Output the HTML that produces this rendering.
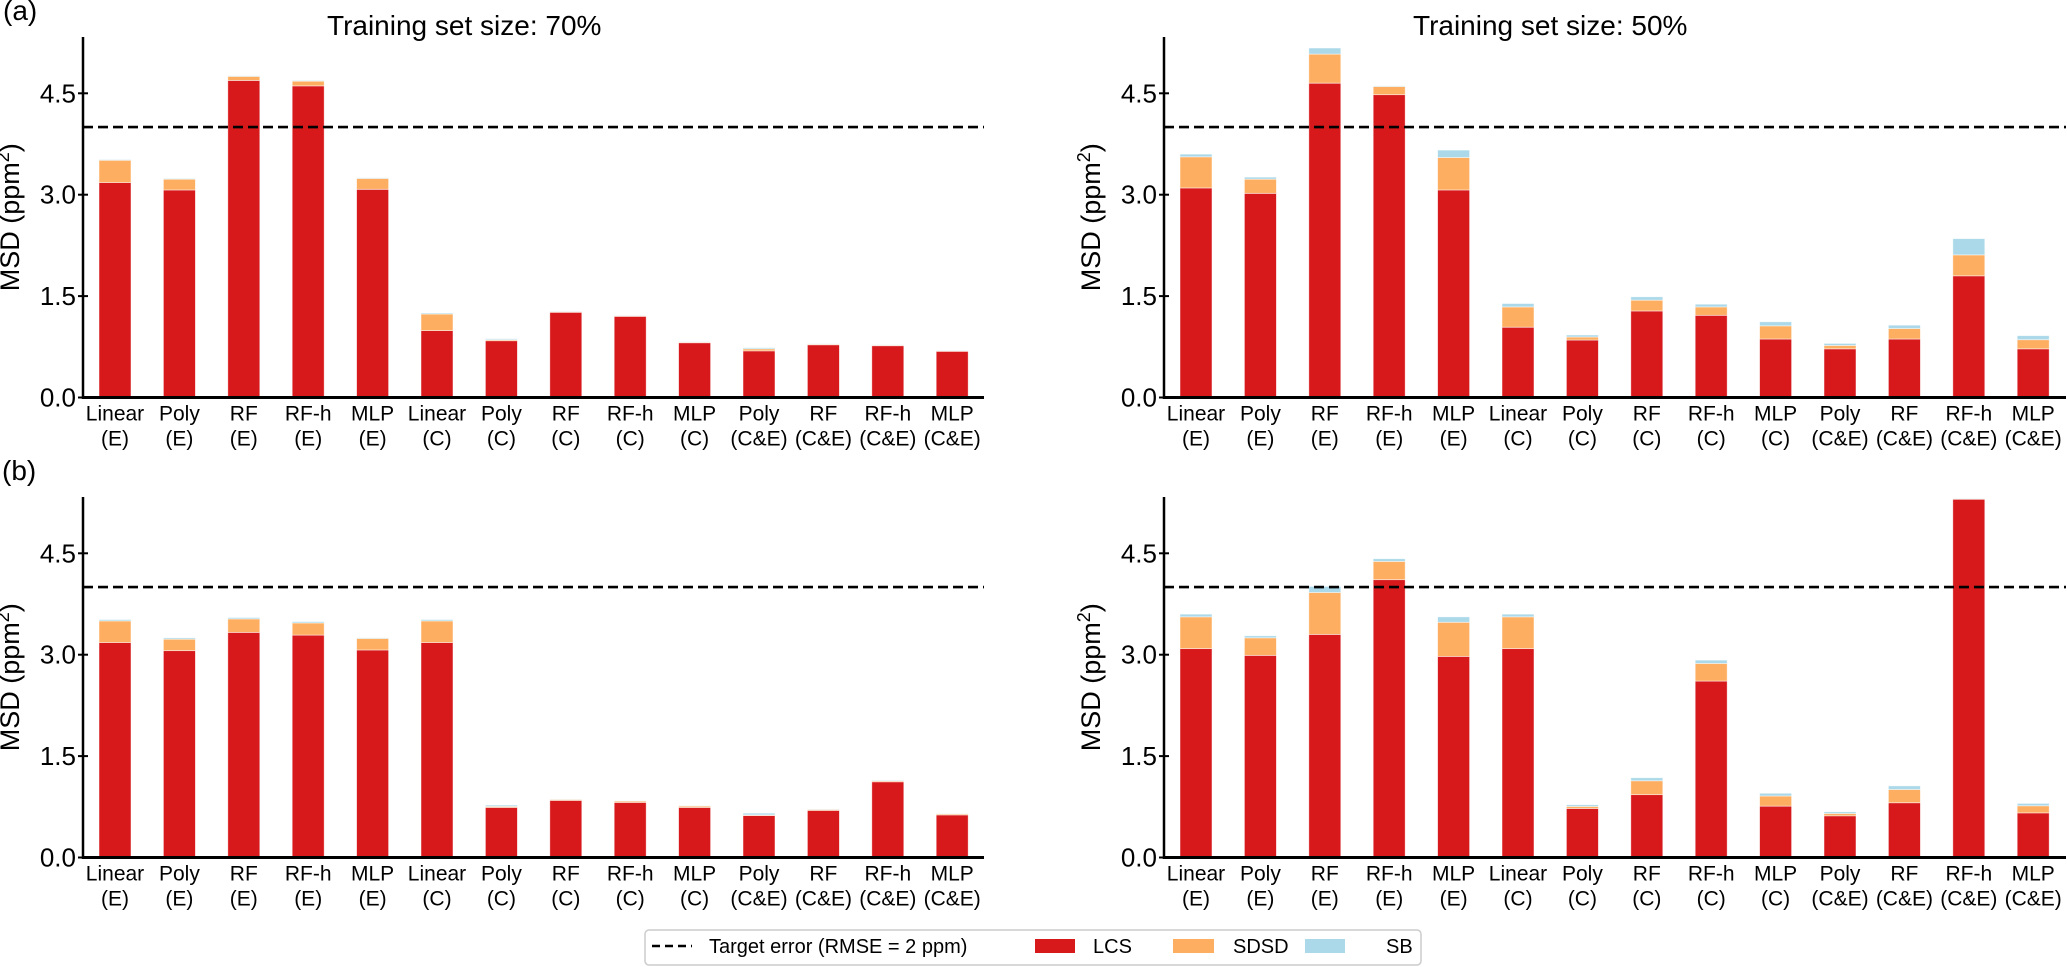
<!DOCTYPE html>
<html><head><meta charset="utf-8"><style>
html,body{margin:0;padding:0;background:#fff;}
svg{display:block;font-family:"Liberation Sans",Arial,sans-serif;}
</style></head><body>
<svg id="fig" width="2067" height="967" viewBox="0 0 2067 967" xmlns="http://www.w3.org/2000/svg">
<text x="3" y="20" font-size="28">(a)</text>
<text x="2" y="480" font-size="28">(b)</text>
<text x="327" y="35" font-size="28">Training set size: 70%</text>
<text x="1413" y="35" font-size="28">Training set size: 50%</text>
<g>
<rect x="645" y="930" width="776" height="35" rx="4" fill="#fff" stroke="#ccc" stroke-width="1.5"/>
<line x1="652" y1="946" x2="692" y2="946" stroke="#000" stroke-width="2.5" stroke-dasharray="8,5"/>
<text x="709" y="953" font-size="20">Target error (RMSE = 2 ppm)</text>
<rect x="1035" y="939" width="40" height="14" fill="#d7191c"/>
<text x="1093" y="953" font-size="20">LCS</text>
<rect x="1173" y="939" width="41" height="14" fill="#fdae61"/>
<text x="1233" y="953" font-size="20">SDSD</text>
<rect x="1305" y="939" width="40" height="14" fill="#abd9e9"/>
<text x="1386" y="953" font-size="20">SB</text>
</g>
</svg>
<script>
const catTop = ["Linear","Poly","RF","RF-h","MLP","Linear","Poly","RF","RF-h","MLP","Poly","RF","RF-h","MLP"];
const catBot = ["(E)","(E)","(E)","(E)","(E)","(C)","(C)","(C)","(C)","(C)","(C&E)","(C&E)","(C&E)","(C&E)"];
const catTopB = ["Linear","Poly","RF","RF-h","MLP","Linear","Poly","RF","RF-h","MLP","Poly","RF","RF-h","MLP"];
const catBotB = ["(E)","(E)","(E)","(E)","(E)","(C)","(C)","(C)","(C)","(C)","(C&E)","(C&E)","(C&E)","(C&E)"];
const yTicks = [0.0, 1.5, 3.0, 4.5];
const yTickLabels = ["0.0","1.5","3.0","4.5"];
const target = 4.0;
// cumulative tops: LCS, LCS+SDSD, LCS+SDSD+SB
const a70_lcs  = [3.18,3.07,4.69,4.61,3.08,0.99,0.84,1.26,1.20,0.81,0.69,0.78,0.766,0.683];
const a70_sdsd = [3.51,3.23,4.75,4.68,3.24,1.235,0.855,1.27,1.21,0.82,0.72,0.79,0.775,0.69];
const a70_sb   = [3.52,3.24,4.76,4.69,3.25,1.25,0.87,1.275,1.215,0.825,0.737,0.795,0.78,0.695];
const a50_lcs  = [3.10,3.02,4.65,4.48,3.07,1.04,0.85,1.28,1.216,0.865,0.72,0.865,1.80,0.72];
const a50_sdsd = [3.56,3.23,5.08,4.60,3.55,1.34,0.895,1.44,1.34,1.06,0.77,1.02,2.11,0.855];
const a50_sb   = [3.60,3.26,5.17,4.61,3.66,1.39,0.925,1.49,1.38,1.12,0.80,1.07,2.35,0.915];
const b70_lcs  = [3.18,3.06,3.33,3.29,3.07,3.18,0.74,0.844,0.814,0.74,0.62,0.696,1.12,0.63];
const b70_sdsd = [3.50,3.23,3.53,3.47,3.24,3.50,0.755,0.858,0.834,0.76,0.63,0.71,1.135,0.646];
const b70_sb   = [3.52,3.25,3.55,3.49,3.25,3.52,0.775,0.862,0.838,0.765,0.656,0.715,1.145,0.65];
const b50_lcs  = [3.09,2.99,3.30,4.11,2.975,3.09,0.725,0.93,2.61,0.76,0.617,0.81,5.30,0.66];
const b50_sdsd = [3.56,3.25,3.92,4.38,3.48,3.56,0.755,1.135,2.87,0.91,0.651,1.006,5.305,0.765];
const b50_sb   = [3.60,3.28,4.01,4.42,3.56,3.60,0.78,1.18,2.92,0.95,0.676,1.06,5.31,0.80];

const NS = "http://www.w3.org/2000/svg";
const svg = document.getElementById("fig");
function mk(tag, attrs, parent){ const e = document.createElementNS(NS, tag); for (const k in attrs) e.setAttribute(k, attrs[k]); (parent||svg).appendChild(e); return e; }

const UNIT = 67.6;
function panel(name, axX, axEnd, zeroY, topY, lcs, sdsd, sb, tops, bots){
  const g = mk("g", {});
  
  
  const yS = v => zeroY - v*UNIT;
  const xS = i => axX + 32 + i*64.4;
  const bw = 32;
  const colors = ["#d7191c","#fdae61","#abd9e9"];
  for (let i=0;i<lcs.length;i++){
    const segs = [[0,lcs[i]],[lcs[i],sdsd[i]],[sdsd[i],sb[i]]];
    const names = ['bar-lcs','bar-sdsd','bar-sb'];
    for (let s=0;s<3;s++){
      const lo = segs[s][0], hi = Math.max(segs[s][0], segs[s][1]);
      if (hi-lo <= 0) continue;
      const r = mk("rect", {x: xS(i)-bw/2, y: yS(hi), width: bw, height: yS(lo)-yS(hi), fill: colors[s], stroke: "rgba(255,255,255,0.6)", "stroke-width": 0.8}, g);
      
      
    }
    const t1 = mk("text", {x: xS(i), y: zeroY+23, "font-size": 21, "text-anchor": "middle"}, g);
    t1.textContent = tops[i];
    
    
    const t2 = mk("text", {x: xS(i), y: zeroY+48, "font-size": 21, "text-anchor": "middle"}, g);
    t2.textContent = bots[i];
    
    
  }
  const dl = mk("line", {x1: axX, x2: axEnd, y1: yS(target), y2: yS(target), stroke: "#000", "stroke-width": 2.6, "stroke-dasharray": "10,5"}, g);
  
  
  const ya = mk("line", {x1: axX, x2: axX, y1: topY, y2: zeroY+1.5, stroke: "#000", "stroke-width": 2.5}, g);
  
  
  const xa = mk("line", {x1: axX-1, x2: axEnd, y1: zeroY, y2: zeroY, stroke: "#000", "stroke-width": 3}, g);
  
  
  for (let k=0;k<yTicks.length;k++){
    const y = yS(yTicks[k]);
    const tk = mk("line", {x1: axX-5, x2: axX+5, y1: y, y2: y, stroke: "#000", "stroke-width": 2}, g);
    
    
    const tl = mk("text", {x: axX-7, y: y+9, "font-size": 26, "text-anchor": "end"}, g);
    tl.textContent = yTickLabels[k];
    
    
  }
  const cy = (topY+zeroY)/2;
  const lx = axX - 64;
  const yl = mk("text", {x: lx, y: cy, "font-size": 27, "text-anchor": "middle", transform: `rotate(-90 ${lx} ${cy})`}, g);
  yl.innerHTML = 'MSD (ppm<tspan dy="-10" font-size="18">2</tspan><tspan dy="10">)</tspan>';
  
  
}
panel('panel-a-70', 83, 984, 397.5, 37, a70_lcs, a70_sdsd, a70_sb, catTop, catBot);
panel('panel-a-50', 1164, 2066, 397.5, 37, a50_lcs, a50_sdsd, a50_sb, catTop, catBot);
panel('panel-b-70', 83, 984, 857.5, 497, b70_lcs, b70_sdsd, b70_sb, catTopB, catBotB);
panel('panel-b-50', 1164, 2066, 857.5, 497, b50_lcs, b50_sdsd, b50_sb, catTopB, catBotB);
</script>
</body></html>
